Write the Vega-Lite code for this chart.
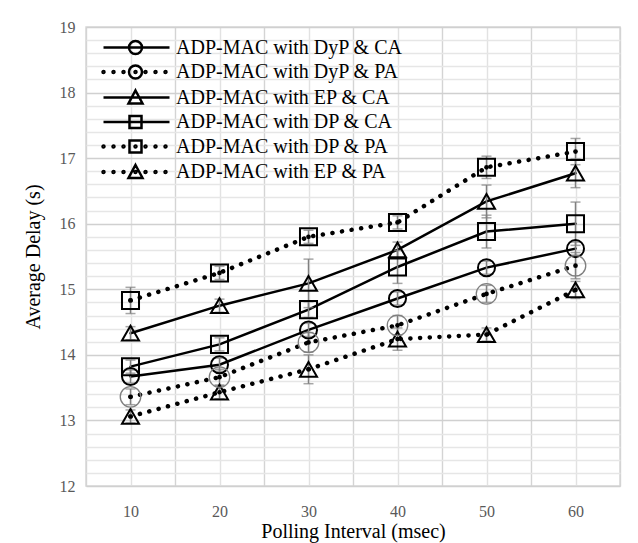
{
  "$schema": "https://vega.github.io/schema/vega-lite/v6.json",
  "width": 534,
  "height": 459,
  "autosize": {"type": "none"},
  "padding": {"left": 86, "top": 27, "right": 18, "bottom": 57},
  "background": "white",
  "config": {
    "view": {"stroke": "#d9d9d9", "strokeWidth": 1.5},
    "font": "Liberation Serif",
    "legend": {"labelFont": "Liberation Serif", "labelFontSize": 20, "labelColor": "black"}
  },
  "data": {
    "values": [
      {"x": 10, "s": "ADP-MAC with DyP & CA", "y": 13.67, "e": 0.1},
      {"x": 20, "s": "ADP-MAC with DyP & CA", "y": 13.85, "e": 0.1},
      {"x": 30, "s": "ADP-MAC with DyP & CA", "y": 14.38, "e": 0.1},
      {"x": 40, "s": "ADP-MAC with DyP & CA", "y": 14.86, "e": 0.1},
      {"x": 50, "s": "ADP-MAC with DyP & CA", "y": 15.33, "e": 0.1},
      {"x": 60, "s": "ADP-MAC with DyP & CA", "y": 15.62, "e": 0.1},
      {"x": 10, "s": "ADP-MAC with DyP & PA", "y": 13.36, "e": 0.12},
      {"x": 20, "s": "ADP-MAC with DyP & PA", "y": 13.66, "e": 0.12},
      {"x": 30, "s": "ADP-MAC with DyP & PA", "y": 14.19, "e": 0.15},
      {"x": 40, "s": "ADP-MAC with DyP & PA", "y": 14.45, "e": 0.15},
      {"x": 50, "s": "ADP-MAC with DyP & PA", "y": 14.93, "e": 0.13},
      {"x": 60, "s": "ADP-MAC with DyP & PA", "y": 15.36, "e": 0.2},
      {"x": 10, "s": "ADP-MAC with EP & CA", "y": 14.33, "e": 0.1},
      {"x": 20, "s": "ADP-MAC with EP & CA", "y": 14.75, "e": 0.1},
      {"x": 30, "s": "ADP-MAC with EP & CA", "y": 15.09, "e": 0.37},
      {"x": 40, "s": "ADP-MAC with EP & CA", "y": 15.6, "e": 0.12},
      {"x": 50, "s": "ADP-MAC with EP & CA", "y": 16.34, "e": 0.25},
      {"x": 60, "s": "ADP-MAC with EP & CA", "y": 16.77, "e": 0.22},
      {"x": 10, "s": "ADP-MAC with DP & CA", "y": 13.82, "e": 0.1},
      {"x": 20, "s": "ADP-MAC with DP & CA", "y": 14.16, "e": 0.1},
      {"x": 30, "s": "ADP-MAC with DP & CA", "y": 14.69, "e": 0.12},
      {"x": 40, "s": "ADP-MAC with DP & CA", "y": 15.34, "e": 0.25},
      {"x": 50, "s": "ADP-MAC with DP & CA", "y": 15.88, "e": 0.25},
      {"x": 60, "s": "ADP-MAC with DP & CA", "y": 16.0, "e": 0.33},
      {"x": 10, "s": "ADP-MAC with DP & PA", "y": 14.83, "e": 0.2},
      {"x": 20, "s": "ADP-MAC with DP & PA", "y": 15.25, "e": 0.1},
      {"x": 30, "s": "ADP-MAC with DP & PA", "y": 15.8, "e": 0.1},
      {"x": 40, "s": "ADP-MAC with DP & PA", "y": 16.02, "e": 0.1},
      {"x": 50, "s": "ADP-MAC with DP & PA", "y": 16.86, "e": 0.17},
      {"x": 60, "s": "ADP-MAC with DP & PA", "y": 17.1, "e": 0.2},
      {"x": 10, "s": "ADP-MAC with EP & PA", "y": 13.06, "e": 0.1},
      {"x": 20, "s": "ADP-MAC with EP & PA", "y": 13.43, "e": 0.1},
      {"x": 30, "s": "ADP-MAC with EP & PA", "y": 13.78, "e": 0.22},
      {"x": 40, "s": "ADP-MAC with EP & PA", "y": 14.24, "e": 0.17},
      {"x": 50, "s": "ADP-MAC with EP & PA", "y": 14.31, "e": 0.1},
      {"x": 60, "s": "ADP-MAC with EP & PA", "y": 14.99, "e": 0.13}
    ]
  },
  "encoding": {
    "x": {
      "field": "x", "type": "quantitative",
      "scale": {"domain": [5, 65], "nice": false, "zero": false},
      "axis": {
        "values": [5, 10, 15, 20, 25, 30, 35, 40, 45, 50, 55, 60, 65],
        "labelExpr": "datum.value % 10 === 0 ? datum.label : ''",
        "ticks": false, "domain": false, "grid": true,
        "gridColor": {"condition": {"test": "datum.value % 10 === 5", "value": "#d4d4d4"}, "value": "#e2e2e2"},
        "gridWidth": 1.4,
        "labelFont": "Liberation Serif", "labelFontSize": 16, "labelColor": "#595959", "labelPadding": 17,
        "title": "Polling Interval (msec)", "titleFont": "Liberation Serif", "titleFontSize": 20,
        "titleFontWeight": "normal", "titleColor": "#000000", "titlePadding": 2
      }
    },
    "y": {
      "field": "y", "type": "quantitative",
      "scale": {"domain": [12, 19], "nice": false, "zero": false},
      "axis": {
        "values": [12, 12.2, 12.4, 12.6, 12.8, 13, 13.2, 13.4, 13.6, 13.8, 14, 14.2, 14.4, 14.6, 14.8, 15, 15.2, 15.4, 15.6, 15.8, 16, 16.2, 16.4, 16.6, 16.8, 17, 17.2, 17.4, 17.6, 17.8, 18, 18.2, 18.4, 18.6, 18.8, 19],
        "labelExpr": "abs(datum.value - round(datum.value)) < 0.001 ? format(datum.value, 'd') : ''",
        "ticks": false, "domain": false, "grid": true,
        "gridColor": {"condition": {"test": "abs(datum.value - round(datum.value)) < 0.001", "value": "#d0d0d0"}, "value": "#e6e6e6"},
        "gridWidth": 1.4,
        "labelFont": "Liberation Serif", "labelFontSize": 16, "labelColor": "#595959", "labelPadding": 11,
        "title": "Average Delay (s)", "titleFont": "Liberation Serif", "titleFontSize": 20,
        "titleFontWeight": "normal", "titleColor": "#000000", "titlePadding": 16
      }
    }
  },
  "layer": [
    {
      "transform": [{"filter": "test(/CA$/, datum.s)"}],
      "mark": {"type": "line", "color": "black", "strokeWidth": 2.5, "strokeCap": "round"},
      "encoding": {"detail": {"field": "s"}}
    },
    {
      "transform": [{"filter": "test(/PA$/, datum.s)"}],
      "mark": {"type": "line", "color": "black", "strokeWidth": 4.5, "strokeCap": "round", "strokeDash": [0.1, 9.6]},
      "encoding": {"detail": {"field": "s"}}
    },
    {
      "mark": {"type": "errorbar", "ticks": {"size": 10}, "color": "#808080", "thickness": 1.5},
      "encoding": {"yError": {"field": "e"}}
    },
    {
      "transform": [{"filter": "datum.s !== 'ADP-MAC with DyP & PA'"}],
      "mark": {"type": "point", "filled": false, "color": "black", "strokeWidth": 2, "size": 290, "opacity": 1},
      "encoding": {
        "shape": {
          "field": "s",
          "scale": {
            "domain": ["ADP-MAC with DyP & CA", "ADP-MAC with EP & CA", "ADP-MAC with DP & CA", "ADP-MAC with DP & PA", "ADP-MAC with EP & PA"],
            "range": ["circle", "triangle-up", "square", "square", "triangle-up"]
          },
          "legend": null
        }
      }
    },
    {
      "transform": [{"filter": "datum.s === 'ADP-MAC with DyP & PA'"}],
      "mark": {"type": "point", "filled": false, "shape": "circle", "color": "#7f7f7f", "strokeWidth": 1.3, "size": 420, "opacity": 1}
    },
    {
      "transform": [{"filter": "test(/PA$/, datum.s)"}],
      "mark": {"type": "point", "filled": true, "shape": "circle", "color": "black", "size": 22, "opacity": 1}
    },
    {
      "mark": {"type": "point", "filled": false, "color": "black", "opacity": 0},
      "encoding": {
        "shape": {
          "field": "s",
          "scale": {
            "domain": ["ADP-MAC with DyP & CA", "ADP-MAC with DyP & PA", "ADP-MAC with EP & CA", "ADP-MAC with DP & CA", "ADP-MAC with DP & PA", "ADP-MAC with EP & PA"],
            "range": [
              "M-0.3,0H6.3M3.55,0A0.65,0.65,0,1,1,2.25,0A0.65,0.65,0,1,1,3.55,0Z",
              "M-0.2,0A0.1,0.1,0,1,1,-0.4,0A0.1,0.1,0,1,1,-0.2,0ZM0.8,0A0.1,0.1,0,1,1,0.6,0A0.1,0.1,0,1,1,0.8,0ZM1.8,0A0.1,0.1,0,1,1,1.6,0A0.1,0.1,0,1,1,1.8,0ZM4,0A0.1,0.1,0,1,1,3.8,0A0.1,0.1,0,1,1,4,0ZM5,0A0.1,0.1,0,1,1,4.8,0A0.1,0.1,0,1,1,5,0ZM6,0A0.1,0.1,0,1,1,5.8,0A0.1,0.1,0,1,1,6,0ZM3,0A0.1,0.1,0,1,1,2.8,0A0.1,0.1,0,1,1,3,0ZM3.55,0A0.65,0.65,0,1,1,2.25,0A0.65,0.65,0,1,1,3.55,0Z",
              "M-0.3,0H6.3M2.9,-0.7L3.6,0.6L2.2,0.6Z",
              "M-0.3,0H6.3M2.3,-0.6H3.5V0.6H2.3Z",
              "M-0.2,0A0.1,0.1,0,1,1,-0.4,0A0.1,0.1,0,1,1,-0.2,0ZM0.8,0A0.1,0.1,0,1,1,0.6,0A0.1,0.1,0,1,1,0.8,0ZM1.8,0A0.1,0.1,0,1,1,1.6,0A0.1,0.1,0,1,1,1.8,0ZM4,0A0.1,0.1,0,1,1,3.8,0A0.1,0.1,0,1,1,4,0ZM5,0A0.1,0.1,0,1,1,4.8,0A0.1,0.1,0,1,1,5,0ZM6,0A0.1,0.1,0,1,1,5.8,0A0.1,0.1,0,1,1,6,0ZM3,0A0.1,0.1,0,1,1,2.8,0A0.1,0.1,0,1,1,3,0ZM2.3,-0.6H3.5V0.6H2.3Z",
              "M-0.2,0A0.1,0.1,0,1,1,-0.4,0A0.1,0.1,0,1,1,-0.2,0ZM0.8,0A0.1,0.1,0,1,1,0.6,0A0.1,0.1,0,1,1,0.8,0ZM1.8,0A0.1,0.1,0,1,1,1.6,0A0.1,0.1,0,1,1,1.8,0ZM4,0A0.1,0.1,0,1,1,3.8,0A0.1,0.1,0,1,1,4,0ZM5,0A0.1,0.1,0,1,1,4.8,0A0.1,0.1,0,1,1,5,0ZM6,0A0.1,0.1,0,1,1,5.8,0A0.1,0.1,0,1,1,6,0ZM3,0A0.1,0.1,0,1,1,2.8,0A0.1,0.1,0,1,1,3,0ZM2.9,-0.7L3.6,0.6L2.2,0.6Z"
            ]
          },
          "legend": {
            "title": null, "orient": "top-left", "offset": 9, "padding": 0,
            "symbolSize": 400, "symbolStrokeWidth": 2.5, "symbolStrokeColor": "black",
            "symbolFillColor": "transparent", "symbolOpacity": 1,
            "labelFont": "Liberation Serif", "labelFontSize": 20, "labelColor": "black",
            "labelLimit": 0, "labelOffset": 58, "rowPadding": 1.5
          }
        }
      }
    }
  ],
  "resolve": {"scale": {"shape": "independent"}}
}
